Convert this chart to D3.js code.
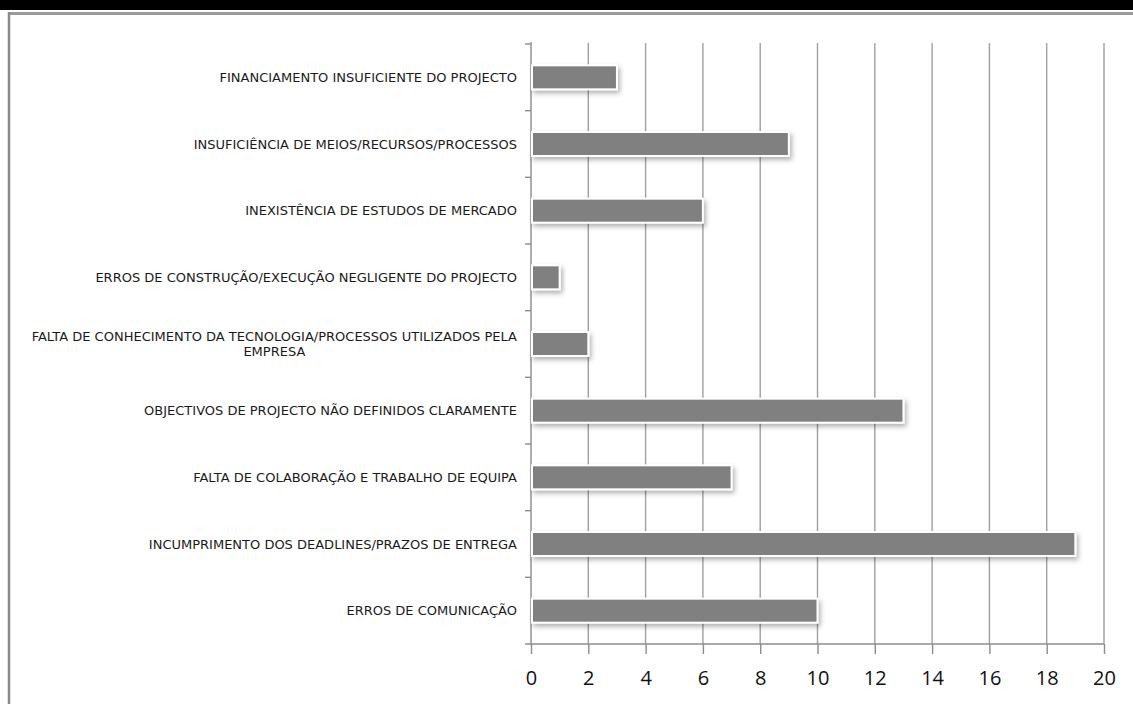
<!DOCTYPE html>
<html>
<head>
<meta charset="utf-8">
<script src="https://cdn.jsdelivr.net/npm/d3@7"></script>
<style>
  html, body { margin: 0; padding: 0; background: #fff; }
  svg { display: block; }
</style>
</head>
<body>
<svg id="chart" width="1133" height="704"></svg>
<script>
// Causes of project failure, number of responses
const categories = [
  "FINANCIAMENTO INSUFICIENTE DO PROJECTO",
  "INSUFICIÊNCIA DE MEIOS/RECURSOS/PROCESSOS",
  "INEXISTÊNCIA DE ESTUDOS DE MERCADO",
  "ERROS DE CONSTRUÇÃO/EXECUÇÃO NEGLIGENTE DO PROJECTO",
  "FALTA DE CONHECIMENTO DA TECNOLOGIA/PROCESSOS UTILIZADOS PELA EMPRESA",
  "OBJECTIVOS DE PROJECTO NÃO DEFINIDOS CLARAMENTE",
  "FALTA DE COLABORAÇÃO E TRABALHO DE EQUIPA",
  "INCUMPRIMENTO DOS DEADLINES/PRAZOS DE ENTREGA",
  "ERROS DE COMUNICAÇÃO"
];
const values = [3, 9, 6, 1, 2, 13, 7, 19, 10];
const xTicks = [0, 2, 4, 6, 8, 10, 12, 14, 16, 18, 20];

const svg = d3.select("#chart");
const W = 1133, H = 704;

// frame: dark band at the top, grey border
svg.append("rect").attr("x", 0).attr("y", 0).attr("width", W).attr("height", 10).attr("fill", "#000");
svg.append("line").attr("x1", 9).attr("x2", W).attr("y1", 13.5).attr("y2", 13.5)
  .attr("stroke", "#9a9a9a").attr("stroke-width", 3);
svg.append("line").attr("x1", 9).attr("x2", 9).attr("y1", 12).attr("y2", H)
  .attr("stroke", "#8a8a8a").attr("stroke-width", 2.5);

const plotLeft = 531, plotRight = 1104, plotTop = 44, plotBottom = 644;

const x = d3.scaleLinear().domain([0, 20]).range([plotLeft, plotRight]);
const y = d3.scaleBand().domain(categories).range([plotTop, plotBottom])
  .paddingInner(0.64).paddingOuter(0.32);

const defs = svg.append("defs");
const f = defs.append("filter").attr("id", "shadow")
  .attr("x", "-10%").attr("y", "-50%").attr("width", "130%").attr("height", "220%");
f.append("feDropShadow").attr("dx", 2).attr("dy", 3).attr("stdDeviation", 2.5)
  .attr("flood-color", "#000").attr("flood-opacity", 0.3);

// vertical gridlines
svg.append("g").selectAll("line").data(xTicks.slice(1)).join("line")
  .attr("x1", d => x(d)).attr("x2", d => x(d))
  .attr("y1", plotTop - 1).attr("y2", plotBottom)
  .attr("stroke", "#a0a0a0").attr("stroke-width", 1.4);

// x axis
const xAxis = svg.append("g").attr("transform", `translate(0,${plotBottom})`)
  .call(d3.axisBottom(x).tickValues(xTicks).tickSize(10).tickPadding(17).tickSizeOuter(0));
xAxis.select(".domain").remove();
xAxis.selectAll(".tick line").attr("stroke", "#8c8c8c").attr("stroke-width", 1.4);
xAxis.selectAll(".tick text")
  .attr("font-family", "'Open Sans', 'Liberation Sans', sans-serif")
  .attr("font-size", 20).attr("fill", "#111");
svg.append("line").attr("x1", plotLeft - 6).attr("x2", plotRight).attr("y1", plotBottom).attr("y2", plotBottom)
  .attr("stroke", "#8c8c8c").attr("stroke-width", 1.4);

// category axis with ticks at the band boundaries
svg.append("line").attr("x1", plotLeft).attr("x2", plotLeft).attr("y1", plotTop - 2).attr("y2", plotBottom)
  .attr("stroke", "#8c8c8c").attr("stroke-width", 1.4);
const step = y.step();
svg.append("g").selectAll("line").data(d3.range(categories.length))
  .join("line")
  .attr("x1", plotLeft - 6).attr("x2", plotLeft)
  .attr("y1", i => plotTop + i * step).attr("y2", i => plotTop + i * step)
  .attr("stroke", "#8c8c8c").attr("stroke-width", 1.4);

// bars
svg.append("g").selectAll("rect").data(values).join("rect")
  .attr("x", x(0) + 1)
  .attr("y", (d, i) => y(categories[i]))
  .attr("width", d => x(d) - x(0) - 1)
  .attr("height", y.bandwidth())
  .attr("fill", "#808080")
  .attr("stroke", "#fff").attr("stroke-width", 2)
  .attr("filter", "url(#shadow)");

// category labels, wrapped and centred within a right-aligned block
const labelRight = 517, maxWidth = 500, lineH = 15;
const labels = svg.append("g")
  .attr("font-family", "'DejaVu Sans', sans-serif")
  .attr("font-size", 13).attr("fill", "#1a1a1a");
categories.forEach(c => {
  const cy = y(c) + y.bandwidth() / 2;
  const t = labels.append("text").attr("y", cy).attr("text-anchor", "middle");
  const words = c.split(" ");
  const lines = [];
  let cur = [];
  const probe = t.append("tspan");
  words.forEach(w => {
    cur.push(w);
    probe.text(cur.join(" "));
    if (probe.node().getComputedTextLength() > maxWidth && cur.length > 1) {
      cur.pop();
      lines.push(cur.join(" "));
      cur = [w];
    }
  });
  lines.push(cur.join(" "));
  probe.remove();
  let widest = 0;
  const spans = lines.map(l => {
    const s = t.append("tspan").text(l);
    widest = Math.max(widest, s.node().getComputedTextLength());
    return s;
  });
  const cx = labelRight - widest / 2;
  const y0 = cy - (lines.length - 1) * lineH / 2;
  spans.forEach((s, i) => s.attr("x", cx).attr("y", y0 + i * lineH).attr("dy", "0.35em"));
});
</script>
</body>
</html>
